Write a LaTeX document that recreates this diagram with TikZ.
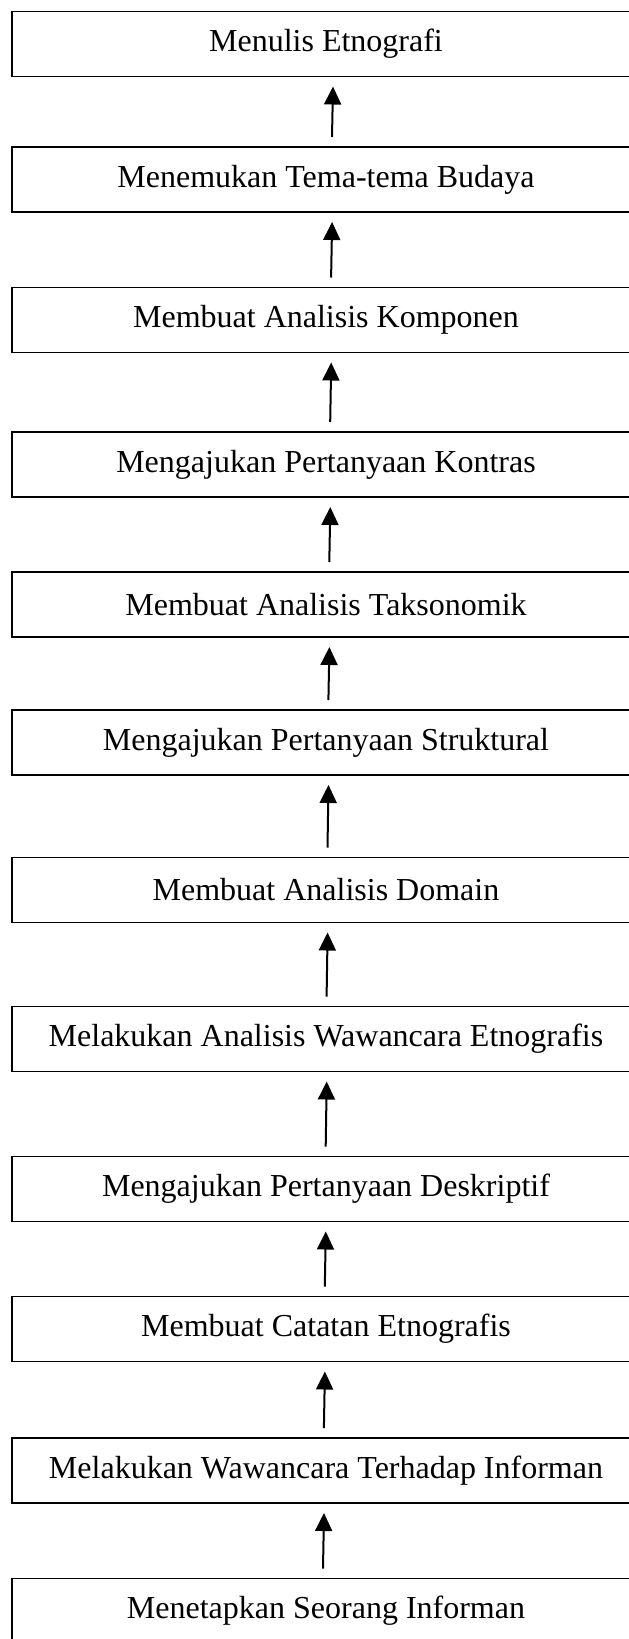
\documentclass[tikz,border=0pt]{standalone}
\usepackage{fontspec}
\setmainfont{Liberation Serif}
\usetikzlibrary{arrows.meta}
\begin{document}
\begin{tikzpicture}[x=1pt,y=-1pt,
    langkah/.style={draw, line width=1.6pt, minimum width=628pt, minimum height=65pt,
      inner sep=0pt, outer sep=0pt, font=\fontsize{32}{38}\selectfont},
    panah/.style={-{Triangle[width=17pt,length=18pt]}, line width=2pt}]
  \useasboundingbox (0,0) rectangle (629,1639);
  \clip (0,0) rectangle (629,1639);
  % Tahapan
  \node[langkah] (b1)  at (326,44)    {Menulis Etnografi};
  \node[langkah] (b2)  at (326,179.5) {Menemukan Tema-tema Budaya};
  \node[langkah] (b3)  at (326,320)   {Membuat Analisis Komponen};
  \node[langkah] (b4)  at (326,464.5) {Mengajukan Pertanyaan Kontras};
  \node[langkah] (b5)  at (326,604.5) {Membuat Analisis Taksonomik};
  \node[langkah] (b6)  at (326,742.5) {Mengajukan Pertanyaan Struktural};
  \node[langkah] (b7)  at (326,890)   {Membuat Analisis Domain};
  \node[langkah] (b8)  at (326,1039)  {Melakukan Analisis Wawancara Etnografis};
  \node[langkah] (b9)  at (326,1189)  {Mengajukan Pertanyaan Deskriptif};
  \node[langkah] (b10) at (326,1329)  {Membuat Catatan Etnografis};
  \node[langkah] (b11) at (326,1470.5) {Melakukan Wawancara Terhadap Informan};
  \node[langkah] (b12) at (326,1611)  {Menetapkan Seorang Informan};
  % Panah
  \foreach \a/\b [count=\k from 0] in {b2/b1,b3/b2,b4/b3,b5/b4,b6/b5,b7/b6,b8/b7,b9/b8,b10/b9,b11/b10,b12/b11} {
    \pgfmathsetmacro\dx{7-0.9*\k}
    \draw[panah] ([xshift=\dx pt-1pt,yshift=10pt]\a.north) -- ([xshift=\dx pt,yshift=-10pt]\b.south);
  }
\end{tikzpicture}
\end{document}
